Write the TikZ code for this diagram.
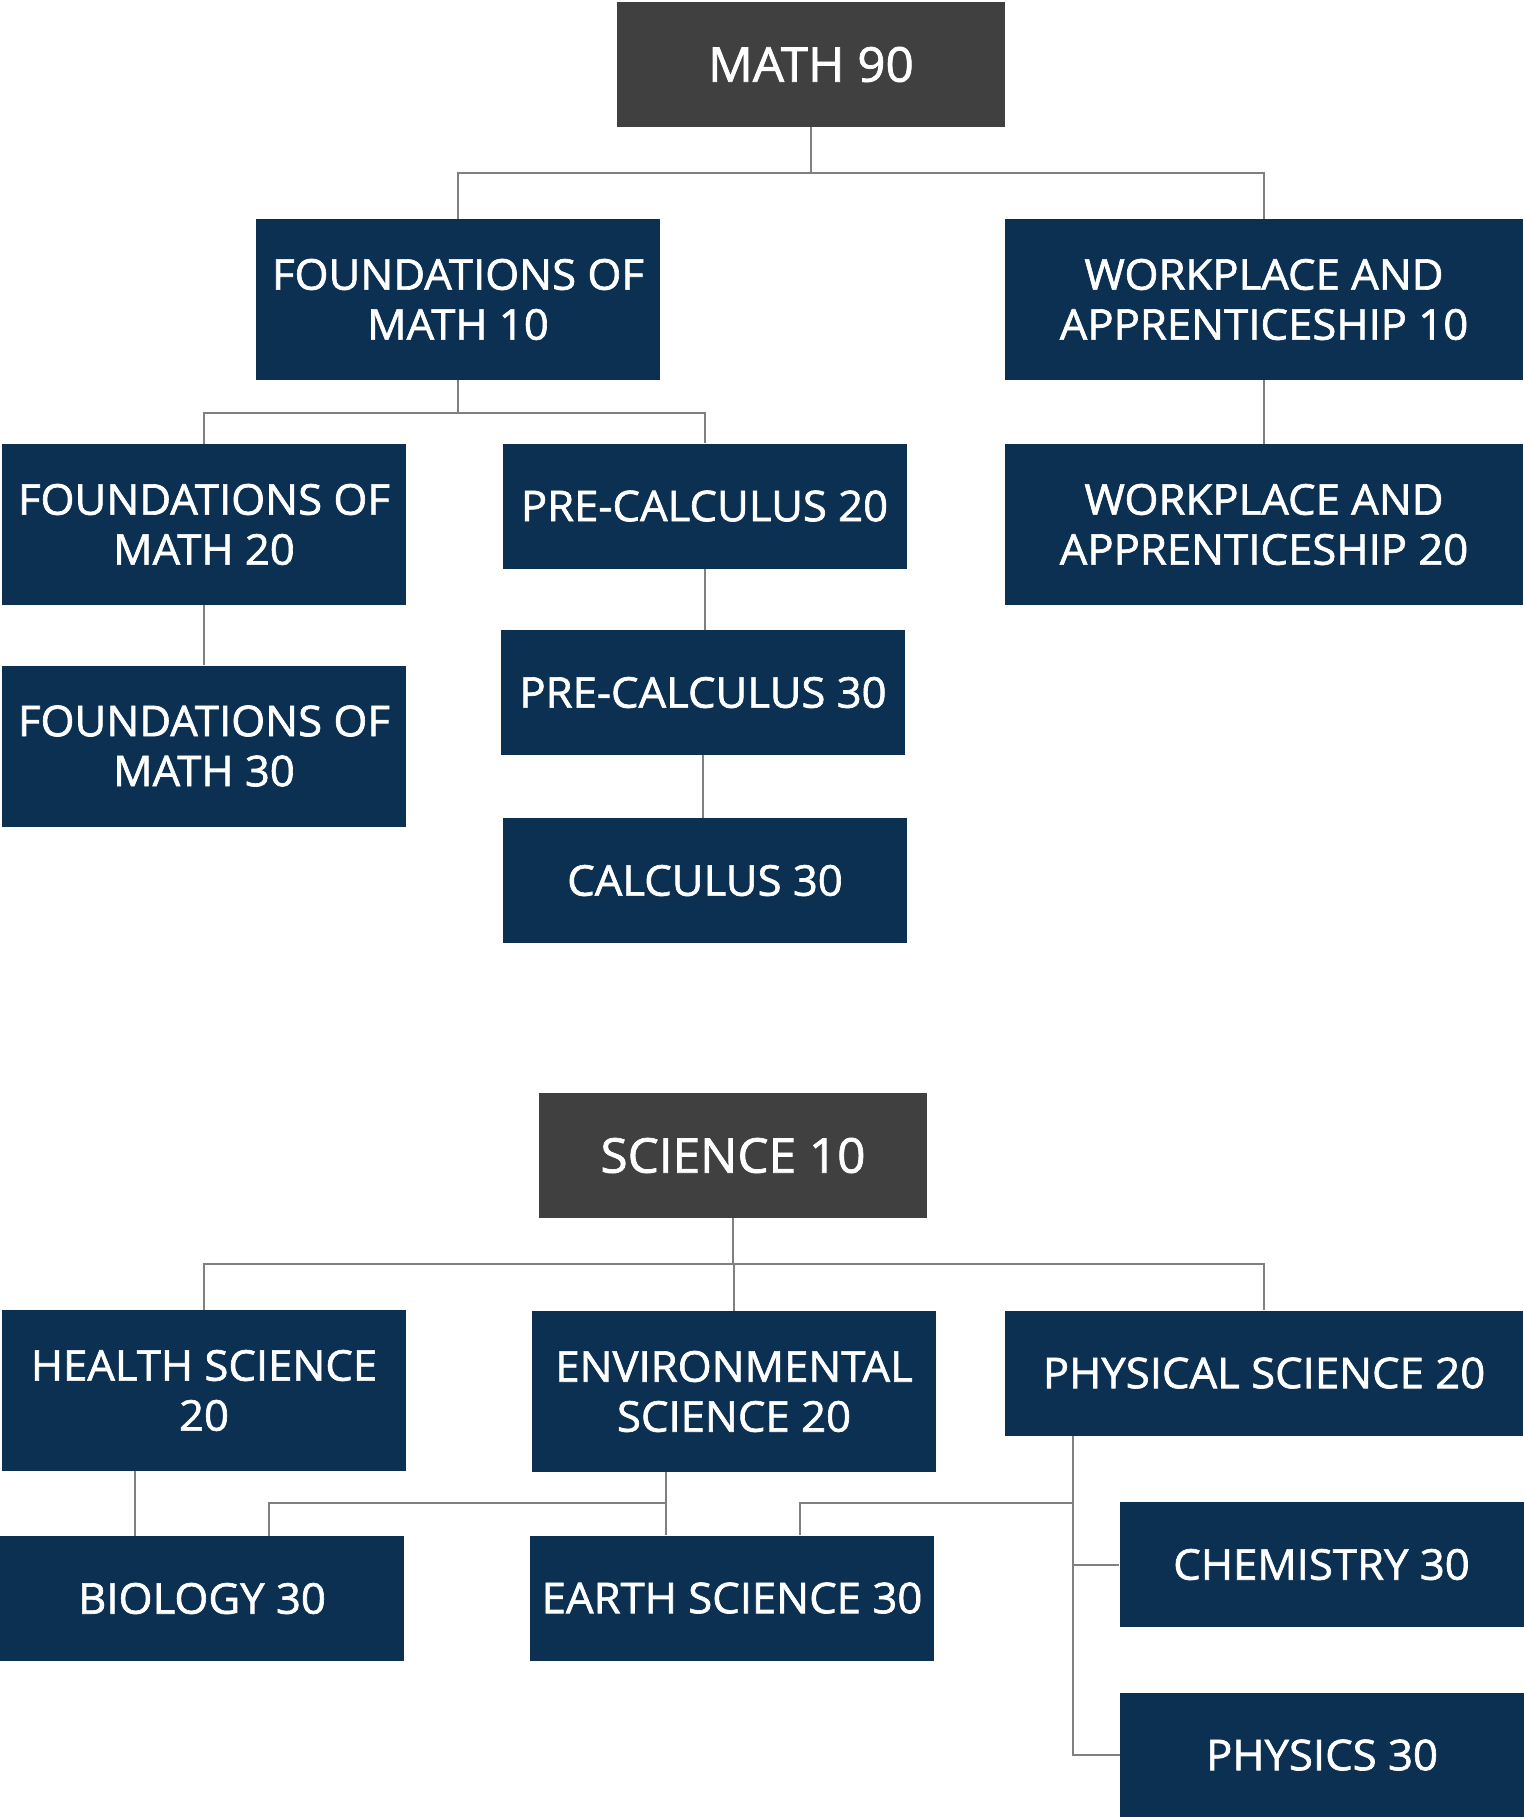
\documentclass[tikz,border=0pt]{standalone}
\usepackage{fontspec}
\setmainfont{Open Sans}[FakeBold=1.5,FakeStretch=1.03]
\usetikzlibrary{calc}
\definecolor{navy}{HTML}{0B3052}
\definecolor{charcoal}{HTML}{404040}
\definecolor{linegray}{HTML}{808080}

\begin{document}
\begin{tikzpicture}[x=0.5pt,y=-0.5pt]
\tikzset{course/.style = {fill=navy, text=white, inner sep=0pt, align=center, minimum width=202pt, minimum height=62.5pt, font=\fontsize{21.2}{25}\selectfont}}
\tikzset{root/.style = {course, fill=charcoal, minimum width=194pt, font=\fontsize{24}{29}\selectfont}}
\tikzset{tall/.style = {minimum height=80.5pt}}
\tikzset{wide/.style = {minimum width=259pt}}
\tikzset{link/.style = {draw=linegray, line width=1pt}}
\useasboundingbox (0,0) rectangle (1523,1817);

% math
\node[root] (m90) at (811,64.5) {MATH 90};
\node[course,tall] (f10) at (458,299.5) {FOUNDATIONS OF\\MATH 10};
\node[course,tall,wide] (w10) at (1264,299.5) {WORKPLACE AND\\APPRENTICESHIP 10};
\node[course,tall] (f20) at (204,524.5) {FOUNDATIONS OF\\MATH 20};
\node[course] (pc20) at (704.5,506) {PRE-CALCULUS 20};
\node[course,tall,wide] (w20) at (1264,524.5) {WORKPLACE AND\\APPRENTICESHIP 20};
\node[course,tall] (f30) at (204,746) {FOUNDATIONS OF\\MATH 30};
\node[course] (pc30) at (703,692.5) {PRE-CALCULUS 30};
\node[course] (c30) at (705,880.5) {CALCULUS 30};

\coordinate (mj) at (811,173);
\coordinate (fj) at (458,413);
\draw[link] (m90.south) -- (mj);
\draw[link] (mj) -| (f10.north);
\draw[link] (mj) -| (w10.north);
\draw[link] (f10.south) -- (fj);
\draw[link] (fj) -| (f20.north);
\draw[link] (fj) -| (pc20.north);
\draw[link] (w10) -- (w20);
\draw[link] (f20) -- (f30);
\draw[link] (pc20.south) -- (pc20.south |- pc30.north);
\draw[link] (pc30.south) -- (pc30.south |- c30.north);

% science
\node[root] (s10) at (733,1155.5) {SCIENCE 10};
\node[course,tall] (hs20) at (204,1390.5) {HEALTH SCIENCE\\20};
\node[course,tall] (es20) at (734,1391.5) {ENVIRONMENTAL\\SCIENCE 20};
\node[course,wide] (ps20) at (1264,1373) {PHYSICAL SCIENCE 20};
\node[course] (bio30) at (202,1598.5) {BIOLOGY 30};
\node[course] (earth30) at (732,1598) {EARTH SCIENCE 30};
\node[course] (chem30) at (1321.5,1564.5) {CHEMISTRY 30};
\node[course] (phys30) at (1322,1755) {PHYSICS 30};

\coordinate (sj) at (733,1264);
\coordinate (ej) at (666,1503);
\coordinate (pj) at (1073,1503);
\draw[link] (s10.south) -- (sj);
\draw[link] (sj) -| (hs20.north);
\draw[link] (sj) -| (es20.north);
\draw[link] (sj) -| (ps20.north);
\draw[link] ([xshift=66.5pt]hs20.south west) -- ([xshift=67.5pt]bio30.north west);
\draw[link] (ej |- es20.south) -- (ej |- earth30.north);
\draw[link] (ej) -| ([xshift=134.5pt]bio30.north west);
\draw[link] (pj |- ps20.south) -- (pj |- phys30.west) -- (phys30.west);
\draw[link] (pj) -| ([xshift=135pt]earth30.north west);
\draw[link] (pj |- chem30.west) -- (chem30.west);
\end{tikzpicture}
\end{document}
